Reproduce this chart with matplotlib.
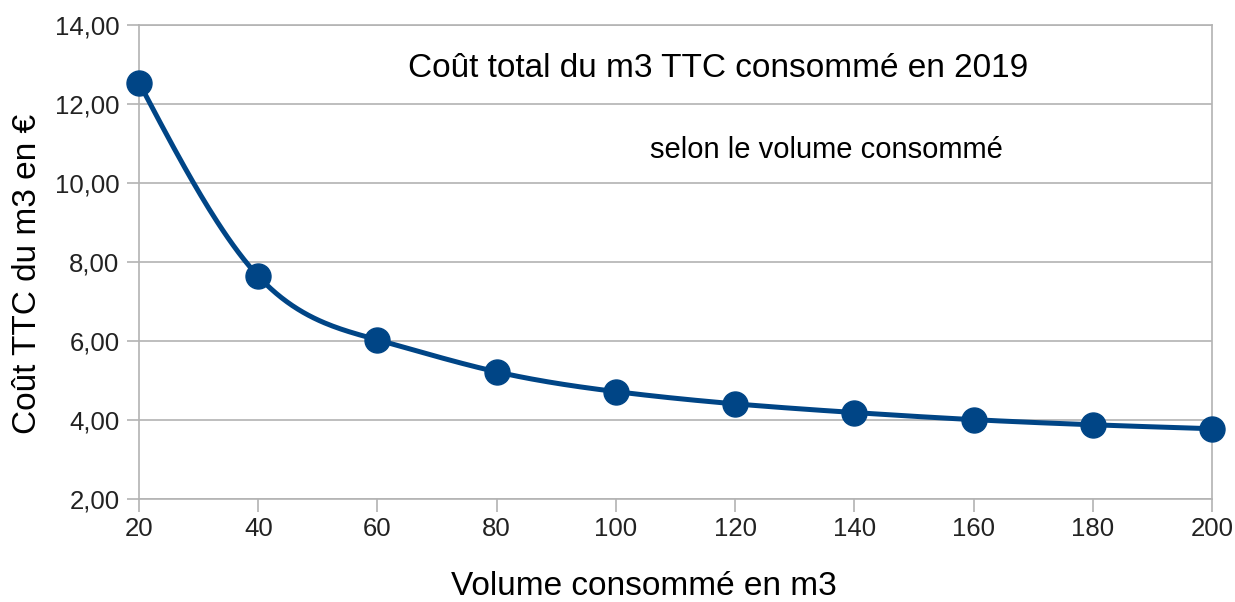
import numpy as np
import matplotlib
matplotlib.use("Agg")
import matplotlib.pyplot as plt
from matplotlib.ticker import FuncFormatter

plt.rcParams['font.family'] = ['Liberation Sans', 'DejaVu Sans']

# données
volumes = [20, 40, 60, 80, 100, 120, 140, 160, 180, 200]
cout_m3 = [12.54, 7.64, 6.03, 5.22, 4.72, 4.41, 4.19, 4.01, 3.88, 3.78]
y_ticks = [2, 4, 6, 8, 10, 12, 14]

BLEU = '#004586'
GRIS = '#b3b3b3'


def spline_naturelle(x, y, n=400):
    # spline cubique naturelle pour lisser la courbe comme LibreOffice
    x = np.asarray(x, float)
    y = np.asarray(y, float)
    k = len(x)
    h = np.diff(x)
    A = np.zeros((k, k))
    b = np.zeros(k)
    A[0, 0] = A[-1, -1] = 1
    for i in range(1, k - 1):
        A[i, i - 1] = h[i - 1]
        A[i, i] = 2 * (h[i - 1] + h[i])
        A[i, i + 1] = h[i]
        b[i] = 6 * ((y[i + 1] - y[i]) / h[i] - (y[i] - y[i - 1]) / h[i - 1])
    M = np.linalg.solve(A, b)
    xs = np.linspace(x[0], x[-1], n)
    idx = np.clip(np.searchsorted(x, xs) - 1, 0, k - 2)
    x0, x1 = x[idx], x[idx + 1]
    hh = x1 - x0
    t0, t1 = x1 - xs, xs - x0
    ys = (M[idx] * t0 ** 3 + M[idx + 1] * t1 ** 3) / (6 * hh) \
        + (y[idx] / hh - M[idx] * hh / 6) * t0 \
        + (y[idx + 1] / hh - M[idx + 1] * hh / 6) * t1
    return xs, ys


fig = plt.figure(figsize=(12.35, 6.02), dpi=100)
ax = fig.add_axes([0.1126, 0.171, 0.8688, 0.7875])

xs, ys = spline_naturelle(volumes, cout_m3)
ax.plot(xs, ys, color=BLEU, lw=3.6, solid_capstyle='round', zorder=3)
ax.plot(volumes, cout_m3, 'o', color=BLEU, ms=18, zorder=4, clip_on=False)

ax.set_xlim(20, 200)
ax.set_ylim(2, 14)
ax.set_xticks(volumes)
ax.set_yticks(y_ticks)
ax.yaxis.set_major_formatter(FuncFormatter(lambda v, p: f"{v:.2f}".replace('.', ',')))
ax.grid(axis='y', color=GRIS, lw=1.2)
ax.set_axisbelow(True)
for s in ax.spines.values():
    s.set_color(GRIS)
    s.set_linewidth(1.2)
ax.tick_params(axis='both', colors=GRIS, labelcolor='#222222', length=9, width=1.2,
               labelsize=18.5)
ax.tick_params(axis='x', pad=4)
ax.tick_params(axis='y', pad=5)

ax.set_xlabel("Volume consommé en m3", fontsize=24, va='center')
ax.xaxis.set_label_coords(0.4706, -0.1835)
ax.set_ylabel("Coût TTC du m3 en €", fontsize=24, va='center')
ax.yaxis.set_label_coords(-0.104, 0.475)

fig.text(0.5814, 0.887, "Coût total du m3 TTC consommé en 2019", fontsize=24,
         ha='center', va='center')
fig.text(0.669, 0.751, "selon le volume consommé", fontsize=21, ha='center', va='center')

fig.savefig("out.png", dpi=100)
